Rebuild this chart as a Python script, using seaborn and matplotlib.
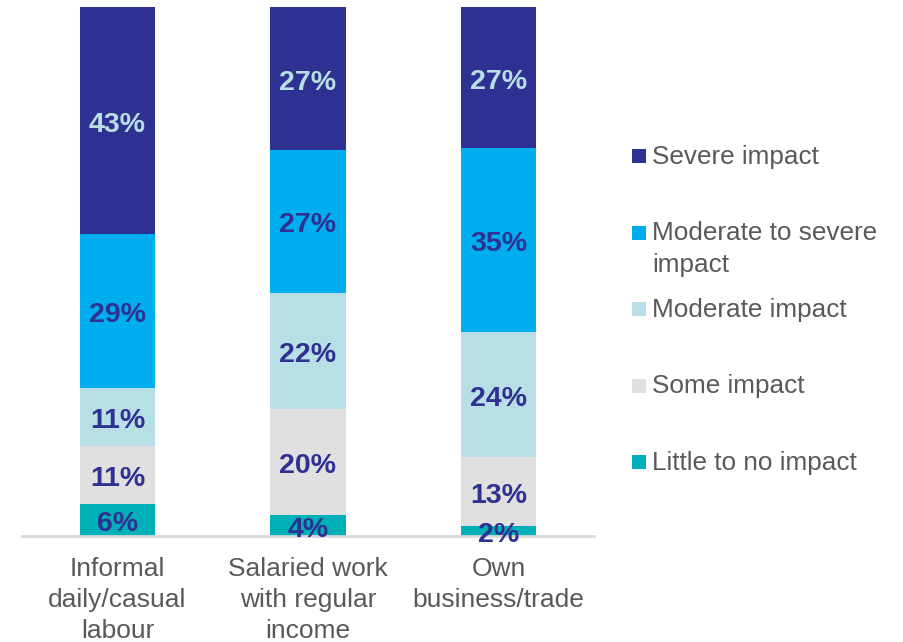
import matplotlib
matplotlib.use("Agg")
import matplotlib.pyplot as plt
from matplotlib.patches import Rectangle
import seaborn as sns
import numpy as np
import pandas as pd

# ---- data ----
categories = ["Informal\ndaily/casual\nlabour", "Salaried work\nwith regular\nincome", "Own\nbusiness/trade"]
series_names = ["Little to no impact", "Some impact", "Moderate impact",
                "Moderate to severe\nimpact", "Severe impact"]
little = [6, 4, 2]
some = [11, 20, 13]
moderate = [11, 22, 24]
mod_severe = [29, 27, 35]
severe = [43, 27, 27]
series_values = [little, some, moderate, mod_severe, severe]
colors = ["#00B0B9", "#E0E0E0", "#B8DEE6", "#00AEEF", "#2E3192"]
label_colors = ["#2E3192", "#2E3192", "#2E3192", "#2E3192", "#B8DEE6"]

sns.set_style("white")
plt.rcParams["font.family"] = ["Liberation Sans", "DejaVu Sans"]

W, H = 904, 642
fig = plt.figure(figsize=(W / 100, H / 100), dpi=100)
ax = fig.add_axes([22.25 / W, (H - 536) / H, (593.75 - 22.25) / W, 529 / H])

vals = np.array(series_values, dtype=float)
totals = vals.sum(axis=0)
shares = vals / totals * 100  # 100% stacked
bottom = np.zeros(len(categories))
for i, name in enumerate(series_names):
    df = pd.DataFrame({"cat": categories, "val": shares[i]})
    sns.barplot(data=df, x="cat", y="val", bottom=bottom, color=colors[i],
                width=0.394, errorbar=None, ax=ax, linewidth=0, saturation=1)
    cont = ax.containers[-1]
    ax.bar_label(cont, labels=[f"{int(v)}%" for v in series_values[i]],
                 label_type="center", color=label_colors[i], fontsize=20.5,
                 fontweight="bold", padding=-3)
    bottom = bottom + shares[i]

ax.set_xlim(-0.5, 2.5)
ax.set_ylim(0, 100)
ax.set_xlabel("")
ax.set_ylabel("")
ax.set_yticks([])
for s in ["top", "right", "left"]:
    ax.spines[s].set_visible(False)
ax.spines["bottom"].set_color("#D9D9D9")
ax.spines["bottom"].set_linewidth(2)
ax.tick_params(axis="x", length=0, pad=15, labelsize=19, labelcolor="#595959")
for t in ax.get_xticklabels():
    t.set_linespacing(1.38)

# legend (entries evenly spaced by their first line, as in the original)
order = list(range(len(series_names)))[::-1]
for k, i in enumerate(order):
    yc = 156 + 76.5 * k
    fig.patches.append(Rectangle((632 / W, 1 - (yc + 7) / H), 14 / W, 14 / H,
                                 transform=fig.transFigure, color=colors[i], lw=0))
    fig.text(652 / W, 1 - (yc - 11) / H, series_names[i], ha="left", va="top",
             fontsize=18.8, color="#595959", linespacing=1.38)

fig.savefig("out.png", dpi=100)
